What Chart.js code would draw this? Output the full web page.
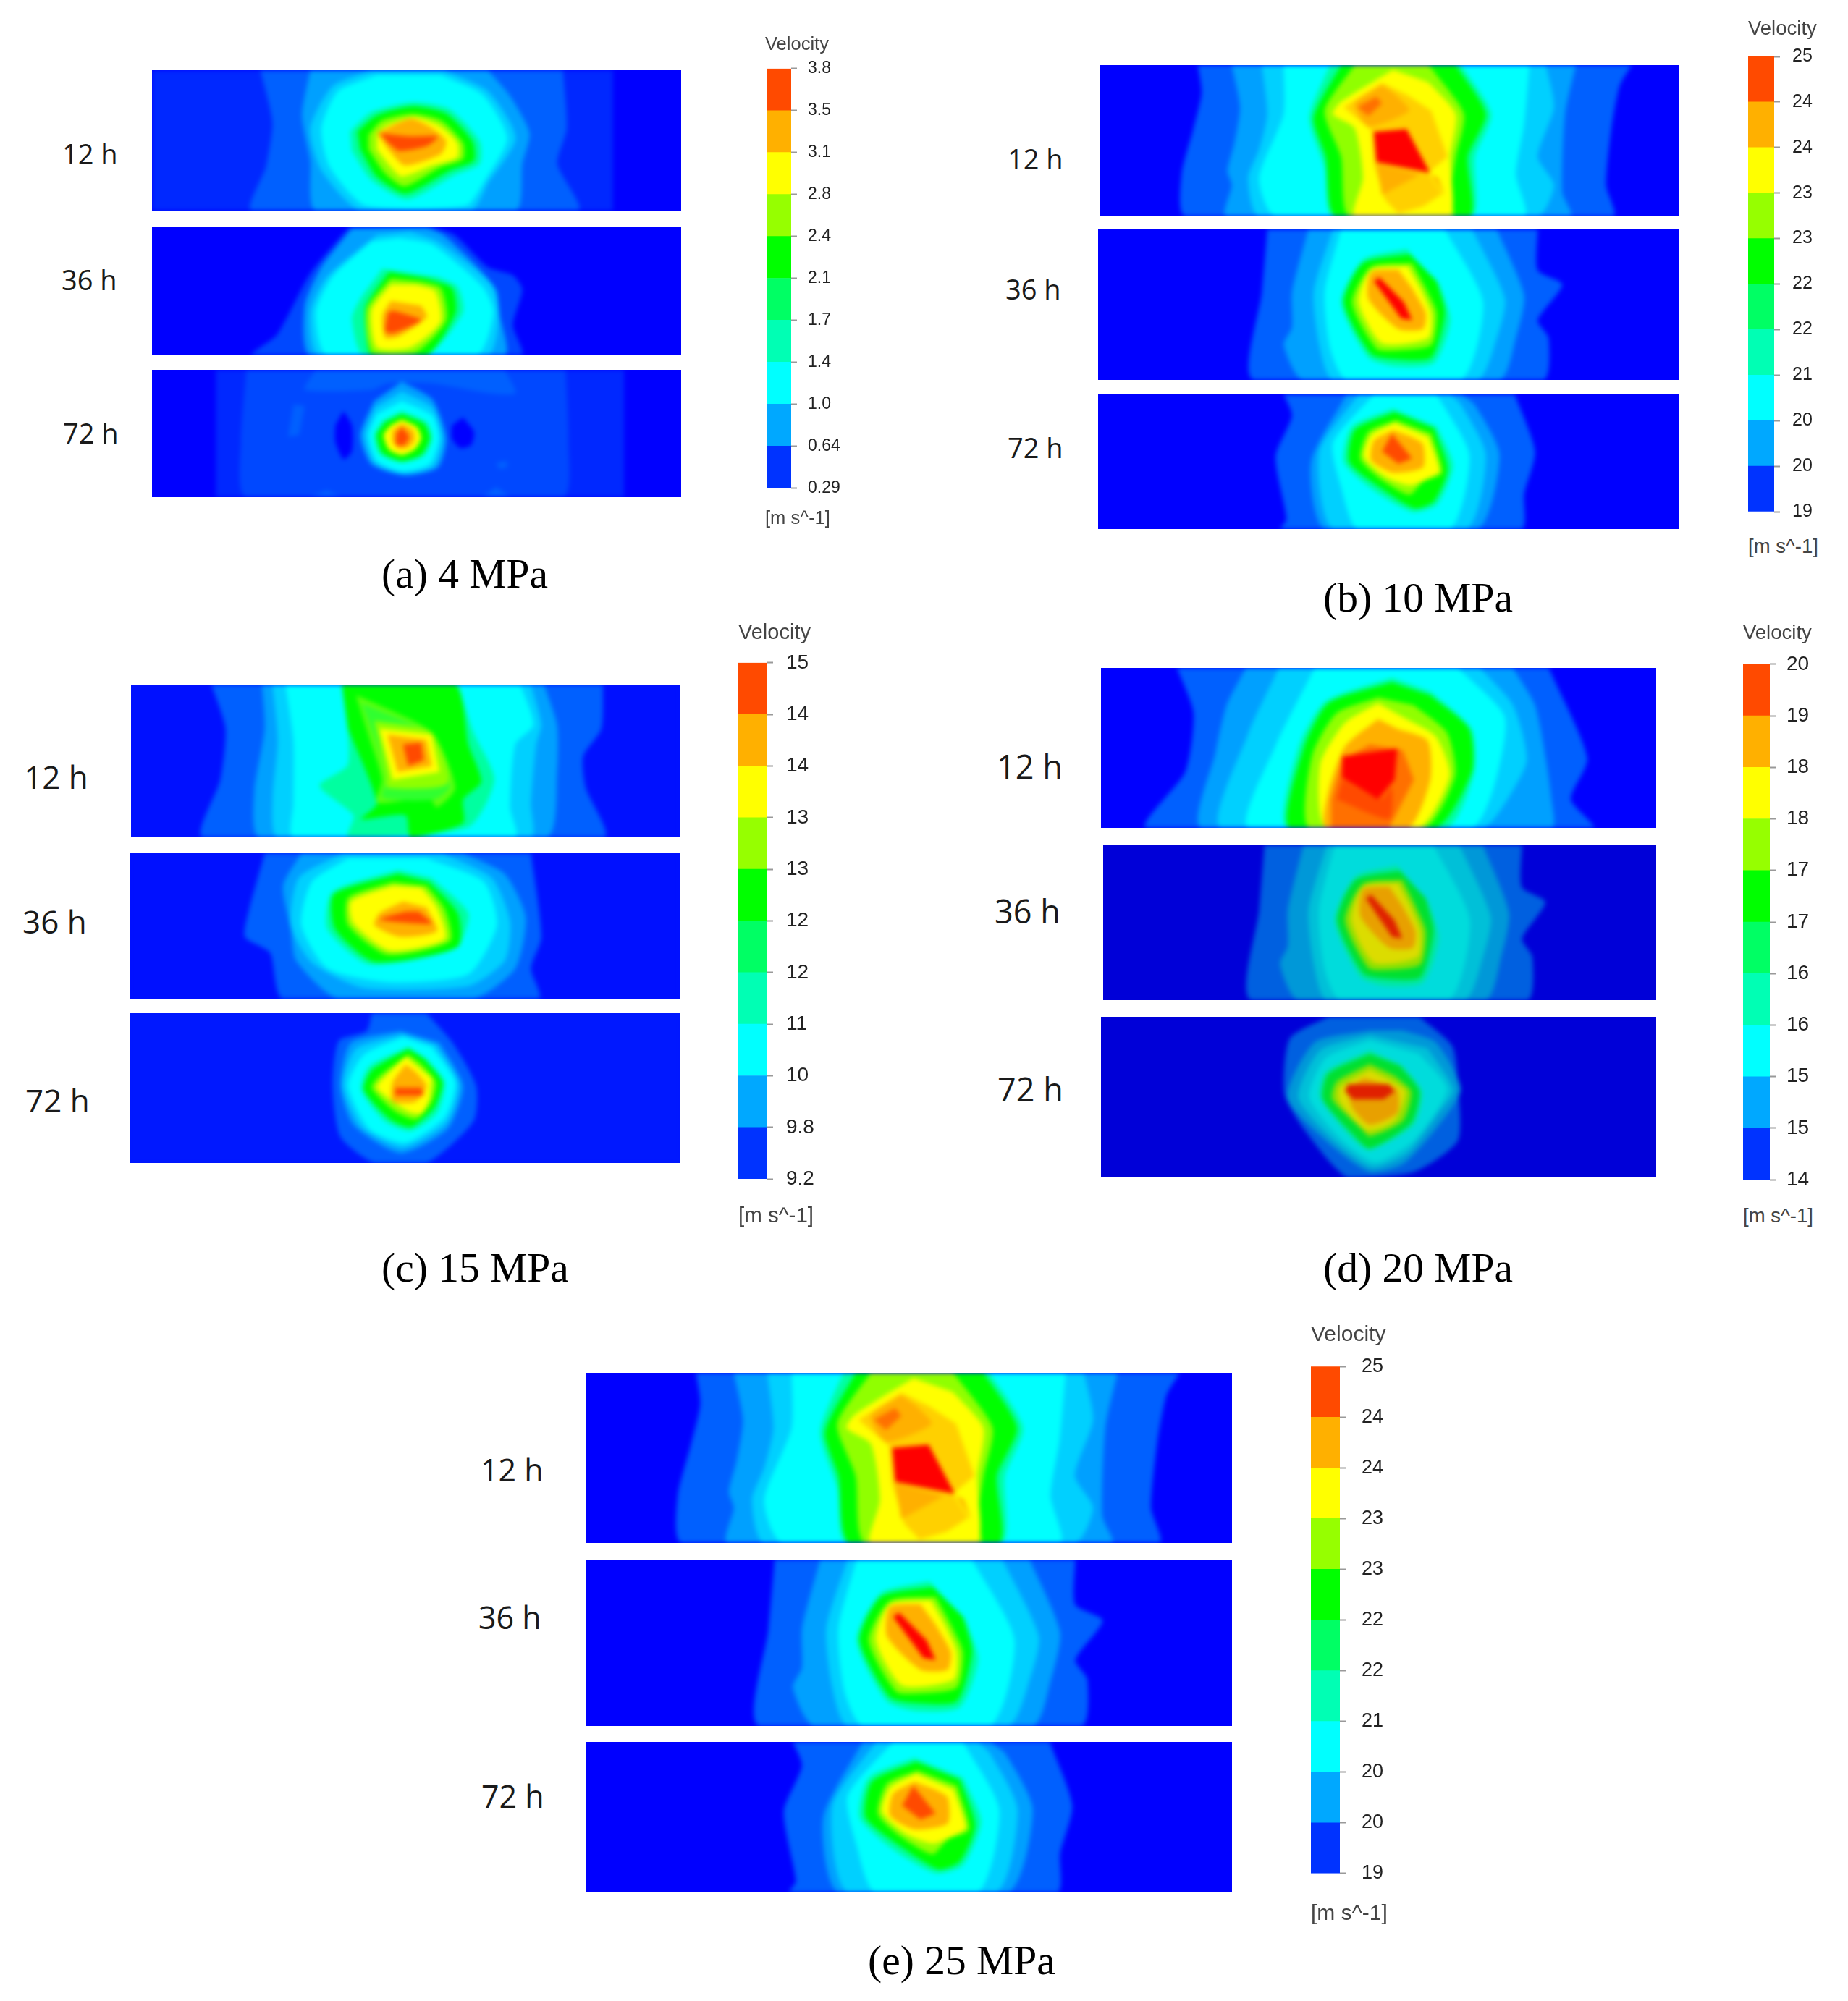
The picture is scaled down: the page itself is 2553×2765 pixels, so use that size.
<!DOCTYPE html>
<html><head><meta charset="utf-8">
<style>
html,body{margin:0;padding:0;background:#fff;width:2553px;height:2765px;overflow:hidden}
#page{position:relative;width:2553px;height:2765px}
.strip{position:absolute;overflow:hidden}
.strip canvas{display:block;filter:blur(3px)}
.bar{position:absolute}
.t{position:absolute;white-space:nowrap;transform:translateY(-50%);line-height:1}
</style>
<script src="https://cdn.jsdelivr.net/npm/chart.js@4/dist/chart.umd.min.js"></script>
</head><body><div id="page"></div>
<script>
// Contour level index -> colour (rainbow velocity legend)
const levelColors={1:'#0028ff',2:'#0060ff',3:'#00a0ff',4:'#00d0ff',5:'#00ffff',7:'#00ffa0',8:'#00ff00',9:'#90ff00',10:'#ffff00',15:'#ffd000',11:'#ffb000',14:'#ff7000',12:'#ff4a00',13:'#ff0000',16:'#0000ff',17:'#0048ff',18:'#60ff10',19:'#30ff30'};
const dimColors={2:'#0060e0',3:'#0098d8',4:'#00c0d8',5:'#00dcdc',7:'#00e8a0',8:'#00e030',9:'#90e000',10:'#dcdc00',11:'#e8a000',12:'#e04000',13:'#e02000'};

// Legend
const bandColors=['#0033ff','#00a8ff','#00ffff','#00ffb4','#00ff64','#00ff00','#96ff00','#ffff00','#ffb000','#ff4a00'];
const bandSteps=[1,1,1,1,1,1,1,1,1,1];
const ticksA=['0.29','0.64','1.0','1.4','1.7','2.1','2.4','2.8','3.1','3.5','3.8'];
const ticksB=['19','20','20','21','22','22','23','23','24','24','25'];
const ticksC=['9.2','9.8','10','11','12','12','13','13','14','14','15'];
const ticksD=['14','15','15','16','16','17','17','18','18','19','20'];
const ticksE=['19','20','20','21','22','22','23','23','24','24','25'];

// Contour outlines per strip: [level, [x,y, x,y, ...]] outermost first
const a12=[
[1,[195,150,1025,150,1025,585,195,585]],
[2,[390,150,405,250,412,320,400,450,375,585,962,585,925,440,942,330,935,150]],
[3,[480,150,465,290,480,430,490,585,850,585,862,440,875,345,840,230,800,150]],
[4,[590,150,520,200,480,330,500,460,570,585,770,585,800,500,850,360,800,215,720,150]],
[5,[600,165,530,215,500,330,515,450,580,570,760,570,795,490,835,360,790,225,715,165]],
[7,[552,340,590,280,665,250,730,270,785,370,785,440,740,475,655,550,590,490,555,400]],
[8,[565,340,600,290,665,262,725,285,772,370,775,430,730,462,652,532,600,480,570,395]],
[9,[585,350,610,305,665,285,715,305,755,375,755,425,715,450,650,510,615,470,585,395]],
[10,[600,345,620,320,665,295,710,320,745,375,745,420,700,445,645,480,625,450,600,395]],
[11,[600,345,660,300,700,330,725,370,715,410,650,445,620,395]],
[12,[605,345,660,355,710,355,690,385,640,400,620,375]]];
const a36=[
[17,[550,636,480,780,420,970,375,1034,860,1034,845,940,862,830,845,785,800,760,740,660,700,636]],
[3,[555,640,500,760,470,880,480,1034,830,1034,820,900,815,830,770,740,720,660,690,636]],
[4,[600,660,510,790,480,900,495,1034,800,1034,820,900,805,810,710,680,660,650]],
[5,[590,680,520,790,490,900,510,1034,780,1034,810,900,790,820,700,690,640,670]],
[7,[610,765,570,860,555,920,575,1034,690,1034,755,900,745,820,710,790]],
[8,[622,775,580,880,580,960,590,1034,690,1034,742,900,735,825,690,795]],
[9,[625,795,582,890,592,1025,670,1025,725,925,715,825,680,805]],
[10,[625,815,590,895,600,1010,660,1010,715,930,705,835,670,815]],
[11,[625,865,610,910,615,980,640,975,690,915,680,880]],
[12,[620,900,615,960,630,965,680,925,650,905,630,895]]];
const a72=[
[1,[310,1078,310,1472,1045,1472,1045,1078]],
[17,[365,1078,355,1300,365,1472,935,1472,945,1300,940,1078]],
[2,[490,1078,470,1140,590,1140,620,1120,700,1120,800,1150,850,1150,830,1078]],
[2,[450,1185,470,1190,460,1280,440,1285]],
[2,[480,1472,510,1450,535,1472]],
[2,[790,1472,815,1440,840,1472]],
[2,[815,1365,835,1360,835,1380,820,1385]],
[16,[540,1205,555,1250,555,1330,540,1355,525,1300,525,1250]],
[16,[755,1225,775,1270,770,1310,750,1320,735,1290,735,1250]],
[3,[645,1115,700,1170,725,1290,710,1380,650,1405,590,1370,570,1280,595,1175]],
[4,[645,1145,700,1195,718,1290,703,1375,648,1398,595,1365,578,1280,597,1195]],
[5,[645,1175,700,1220,712,1290,695,1370,645,1392,600,1360,585,1280,600,1215]],
[7,[645,1205,690,1240,700,1290,685,1345,645,1365,605,1340,595,1280,610,1235]],
[8,[645,1215,685,1245,695,1290,680,1340,645,1360,610,1335,600,1280,615,1240]],
[10,[645,1232,672,1255,680,1290,668,1325,645,1342,622,1325,612,1280,625,1250]],
[11,[645,1245,665,1265,668,1295,655,1320,640,1322,628,1300,628,1265]],
[12,[645,1255,658,1285,650,1310,635,1310,635,1275]]];
const b12=[
[2,[378,162,385,240,370,340,348,470,355,588,1138,588,1125,500,1135,340,1150,220,1172,162]],
[3,[440,162,455,280,445,380,432,460,440,500,430,588,1060,588,1045,520,1050,300,1070,162]],
[4,[495,162,505,300,490,400,470,480,490,588,1000,588,1030,500,1000,420,1030,280,1015,162]],
[5,[535,162,535,300,490,480,520,588,975,588,960,470,975,330,985,162]],
[7,[620,162,582,310,610,450,625,588,880,588,885,420,915,300,860,162]],
[8,[640,162,590,310,612,420,630,588,875,588,872,420,905,300,850,162]],
[9,[665,162,610,290,640,420,655,588,845,588,840,530,850,420,865,300,810,180,800,162]],
[10,[735,175,640,265,625,300,665,340,680,480,665,588,840,585,845,540,840,420,850,300,800,210]],
[15,[715,212,645,280,695,345,700,440,720,540,745,580,790,560,825,525,800,465,835,420,805,290,760,245]],
[11,[715,218,665,270,690,335,765,290,740,245]],
[14,[705,250,670,280,690,305,715,270]],
[11,[705,438,785,470,715,528]],
[11,[805,468,830,530,818,480]],
[13,[700,350,760,342,803,465,705,435]]];
const b36=[
[2,[505,625,495,800,480,1048,1010,1048,1020,930,1000,880,1045,780,1000,740,1000,625]],
[3,[580,625,550,800,550,900,535,950,570,1048,930,1048,960,930,975,810,925,625]],
[4,[625,625,590,800,600,950,625,1048,890,1048,925,930,940,820,880,625]],
[5,[640,625,610,800,620,960,650,1048,860,1048,900,830,830,625]],
[7,[760,680,680,710,640,830,690,985,740,1010,810,1000,840,880,820,780]],
[8,[765,695,680,720,645,830,695,975,740,990,805,985,830,860,815,770]],
[9,[770,720,695,730,660,830,705,960,745,965,805,950,815,860,795,790]],
[10,[762,728,695,738,672,830,715,945,800,930,805,860,785,790]],
[11,[745,738,695,745,690,820,745,905,790,905,795,860,770,790]],
[13,[710,760,700,770,750,875,770,880,755,830]]];
const b72=[
[2,[535,1090,550,1150,520,1265,540,1440,530,1468,970,1468,975,1370,995,1250,958,1090]],
[3,[650,1090,585,1280,610,1468,890,1468,930,1260,885,1120,860,1090]],
[4,[672,1090,600,1250,625,1468,870,1468,905,1260,860,1120,840,1090]],
[5,[700,1090,625,1225,640,1350,670,1468,840,1468,875,1260,815,1090]],
[7,[735,1130,660,1180,645,1280,700,1360,770,1420,815,1400,845,1290,815,1180]],
[8,[738,1140,665,1190,655,1280,710,1350,775,1410,810,1390,835,1300,810,1185]],
[9,[740,1162,690,1195,675,1270,710,1325,765,1372,790,1335,825,1310,805,1200]],
[10,[738,1170,695,1205,682,1265,720,1320,765,1345,800,1325,820,1305,800,1210]],
[11,[735,1190,700,1220,695,1275,735,1310,790,1295,790,1230,770,1210]],
[12,[733,1200,715,1250,745,1285,770,1270]]];
const c12=[
[2,[378,178,405,290,395,420,362,566,1130,566,1095,440,1090,360,1125,290,1128,178]],
[3,[475,178,480,290,460,450,470,566,1020,566,1040,400,1040,280,1015,178]],
[4,[495,178,505,320,495,470,505,566,990,566,990,480,1000,330,1010,280,990,178]],
[5,[520,178,535,320,535,480,535,566,960,566,950,490,960,330,995,280,970,178]],
[7,[628,178,640,380,585,435,650,510,640,566,870,540,920,420,880,300,850,178]],
[8,[628,178,845,178,870,330,895,425,860,470,860,530,760,566,750,510,665,520,695,480,640,290]],
[18,[655,205,690,225,800,300,845,440,810,490,795,465,695,478,705,420,680,310]],
[19,[665,225,795,305,835,435,805,470,705,465,715,410,690,310]],
[9,[690,270,800,300,830,430,715,440,715,410]],
[10,[700,290,800,305,815,400,725,420]],
[11,[715,305,790,318,800,385,735,400]],
[12,[745,330,780,325,785,370,755,385]]];
const c36=[
[2,[480,607,450,750,442,820,490,860,515,977,1005,977,990,900,1010,820,990,607]],
[3,[550,607,515,690,530,800,540,880,620,977,880,977,960,900,980,770,940,660,860,607]],
[4,[630,607,545,670,530,790,570,885,670,950,870,945,940,880,950,780,915,670,820,607]],
[5,[640,620,570,680,550,790,600,900,720,935,870,915,925,790,900,680,790,620]],
[7,[735,650,610,705,600,800,680,890,845,850,870,760,800,670]],
[8,[735,660,612,712,615,800,690,883,850,845,850,760,795,680]],
[9,[725,680,640,720,640,790,715,865,835,830,825,750,790,690]],
[10,[725,690,645,730,650,785,720,855,825,825,810,745,780,695]],
[11,[745,730,700,760,690,790,740,820,810,805,790,745]],
[12,[750,755,700,775,760,785,800,785,775,755]]];
const c72=[
[2,[685,1014,675,1060,622,1085,610,1200,625,1330,690,1397,790,1397,880,1290,885,1200,840,1090,790,1014]],
[3,[740,1060,645,1090,625,1200,650,1300,740,1372,830,1310,860,1200,815,1090]],
[4,[745,1068,655,1105,630,1200,665,1305,745,1358,828,1295,852,1195,808,1095]],
[5,[745,1075,670,1120,640,1200,680,1310,750,1345,825,1280,845,1190,800,1100]],
[7,[755,1100,680,1150,665,1210,710,1290,760,1315,810,1270,825,1190,790,1130]],
[8,[755,1105,685,1160,670,1210,720,1285,760,1305,805,1255,820,1190,785,1130]],
[9,[755,1120,700,1175,685,1205,730,1265,770,1285,800,1240,808,1190,780,1145]],
[10,[750,1125,715,1170,695,1205,755,1265,780,1270,795,1235,800,1180]],
[11,[750,1145,725,1190,725,1240,770,1240,790,1200,770,1165]],
[12,[730,1205,780,1205,785,1225,730,1225]]];
const d12=[
[2,[350,135,380,250,365,400,295,543,1105,543,1065,470,1095,365,1025,135]],
[3,[475,135,440,230,420,350,395,543,1030,543,1030,470,1020,370,1000,230,960,135]],
[4,[535,135,480,300,430,543,905,543,950,470,985,370,960,230,900,135]],
[5,[600,135,530,330,480,543,885,543,925,440,945,260,860,135]],
[7,[740,160,620,220,570,340,550,543,840,543,890,400,885,290,810,195]],
[8,[740,172,625,225,580,340,555,543,820,543,885,400,880,290,810,205]],
[9,[715,210,640,250,595,360,590,543,800,543,855,410,840,300,780,230]],
[10,[715,225,655,275,610,380,620,543,790,543,845,410,820,310,760,260]],
[11,[715,265,655,335,625,450,620,543,770,543,810,420,805,320,750,290]],
[14,[700,330,650,370,630,470,630,543,735,543,780,420,760,345]],
[12,[650,420,720,470,740,440,735,520,640,470]],
[13,[650,360,750,340,745,420,715,470,650,415]]];
const d72=[
[2,[625,1025,555,1080,545,1220,580,1310,660,1434,780,1420,860,1340,860,1200,850,1100,790,1025]],
[3,[700,1060,600,1090,550,1230,620,1340,700,1420,760,1400,820,1310,865,1210,820,1090,760,1060]],
[4,[700,1072,610,1110,570,1230,635,1340,705,1408,770,1370,830,1260,852,1210,805,1105]],
[5,[700,1085,620,1130,590,1230,650,1340,710,1395,780,1340,840,1210,790,1120]],
[7,[700,1110,620,1165,610,1230,665,1330,700,1365,780,1300,795,1215,760,1150]],
[8,[700,1120,625,1170,615,1235,670,1325,700,1360,775,1295,790,1215,755,1150]],
[9,[700,1145,640,1190,632,1235,685,1310,700,1330,760,1290,775,1215,745,1175]],
[10,[700,1160,645,1205,645,1240,695,1315,745,1290,765,1215,735,1185]],
[11,[690,1180,660,1210,670,1260,700,1300,750,1270,750,1210,725,1195]],
[13,[660,1197,735,1197,745,1215,725,1235,670,1235,655,1215]]];

// Layout: contours, source window [x0,x1,y0,y1], box on page [l,t,r,b], background
const BLUE='#0000ff';
const strips=[
 [a12,[195,1148,150,585],[210,97,941,291],BLUE],
 [a36,[195,1148,636,1034],[210,314,941,491],BLUE],
 [a72,[195,1148,1078,1472],[210,511,941,687],BLUE],
 [b12,[198,1258,162,588],[1519,90,2319,299],BLUE],
 [b36,[195,1258,625,1048],[1517,317,2319,525],BLUE],
 [b72,[195,1258,1090,1468],[1517,545,2319,731],BLUE],
 [c12,[224,1275,178,566],[181,946,939,1157],'#0010ff'],
 [c36,[221,1275,607,977],[179,1179,939,1380],'#0010ff'],
 [c72,[221,1275,1014,1397],[179,1400,939,1607],'#0018ff'],
 [d12,[212,1220,135,543],[1521,923,2288,1144],BLUE],
 [b36,[195,1258,625,1048],[1524,1168,2288,1382],'#0000d8',dimColors],
 [d72,[212,1220,1025,1434],[1521,1405,2288,1627],'#0000d8',dimColors],
 [b12,[198,1258,162,588],[810,1897,1702,2132],BLUE],
 [b36,[195,1258,625,1048],[810,2155,1702,2385],BLUE],
 [b72,[195,1258,1090,1468],[810,2407,1702,2615],BLUE]
];
// Legend layout: ticks, bar box [l,t,r,b], font size, tick label gap, canvas overscan
const legends=[
 [ticksA,[1059,96,1093,673],23,15,4],
 [ticksB,[2415,78,2451,707],25,17,6],
 [ticksC,[1020,916,1060,1629],28,18,9],
 [ticksD,[2408,919,2445,1629],28,15,7],
 [ticksE,[1811,1887,1851,2590],27,22,11]
];
// text, x, centre y, size, family, colour
const SANS='"Open Sans"', ARIAL='"Liberation Sans"', SERIF='"Liberation Serif"';
const texts=[
 ['12 h',86,212,38,SANS,'#1a1a1a'],['36 h',85,386,38,SANS,'#1a1a1a'],['72 h',87,598,38,SANS,'#1a1a1a'],
 ['12 h',1392,219,38,SANS,'#1a1a1a'],['36 h',1389,399,38,SANS,'#1a1a1a'],['72 h',1392,618,38,SANS,'#1a1a1a'],
 ['12 h',33,1073,44,SANS,'#1a1a1a'],['36 h',31,1273,44,SANS,'#1a1a1a'],['72 h',35,1520,44,SANS,'#1a1a1a'],
 ['12 h',1377,1058,45,SANS,'#1a1a1a'],['36 h',1374,1258,45,SANS,'#1a1a1a'],['72 h',1378,1504,45,SANS,'#1a1a1a'],
 ['12 h',664,2030,43,SANS,'#1a1a1a'],['36 h',661,2234,43,SANS,'#1a1a1a'],['72 h',665,2481,43,SANS,'#1a1a1a'],
 ['Velocity',1057,60,25.5,ARIAL,'#444'],['[m s^-1]',1057,715,25.5,ARIAL,'#444'],
 ['Velocity',2415,39,27.5,ARIAL,'#444'],['[m s^-1]',2415,755,27.5,ARIAL,'#444'],
 ['Velocity',1020,873,29,ARIAL,'#444'],['[m s^-1]',1020,1679,29.5,ARIAL,'#444'],
 ['Velocity',2408,874,27.5,ARIAL,'#444'],['[m s^-1]',2408,1680,27.5,ARIAL,'#444'],
 ['Velocity',1811,1843,30,ARIAL,'#444'],['[m s^-1]',1811,2643,30,ARIAL,'#444'],
 ['(a) 4 MPa',527,792,57.5,SERIF,'#000'],
 ['(b) 10 MPa',1828,825,57.5,SERIF,'#000'],
 ['(c) 15 MPa',527,1751,57.5,SERIF,'#000'],
 ['(d) 20 MPa',1828,1751,57.5,SERIF,'#000'],
 ['(e) 25 MPa',1199,2708,57.5,SERIF,'#000']
];

Chart.defaults.animation=false;
const page=document.getElementById('page');

strips.forEach(([contours,win,box,bg,palette])=>{
  const w=box[2]-box[0],h=box[3]-box[1];
  const wrap=document.createElement('div');
  wrap.className='strip';
  wrap.style.cssText=`left:${box[0]}px;top:${box[1]}px;width:${w}px;height:${h}px;background:${bg}`;
  const c=document.createElement('canvas');
  c.width=w;c.height=h;c.style.background=bg;
  wrap.appendChild(c);page.appendChild(wrap);
  const datasets=contours.map(([lvl,flat])=>{
    const data=[];
    for(let i=0;i<flat.length;i+=2)data.push({x:flat[i],y:flat[i+1]});
    const col=(palette&&palette[lvl])||levelColors[lvl];
    const sharp=flat.length<=8||lvl===13||lvl===14||lvl===15;
    return {data,showLine:true,fill:'shape',backgroundColor:col,borderColor:col,borderWidth:0,pointRadius:0,tension:sharp?0:0.22};
  }).reverse();
  new Chart(c,{type:'scatter',data:{datasets},options:{
    responsive:false,devicePixelRatio:1,animation:false,
    layout:{padding:0},
    plugins:{legend:{display:false},title:{display:false},tooltip:{enabled:false}},
    scales:{
      x:{type:'linear',min:win[0],max:win[1],display:false},
      y:{type:'linear',min:win[2],max:win[3],reverse:true,display:false}
    }}});
});

legends.forEach(([ticks,box,size,gap,extra])=>{
  const pad=26, barW=box[2]-box[0], W=barW+100, H=box[3]-box[1]+(pad+extra)*2;
  const c=document.createElement('canvas');
  c.className='bar';c.width=W;c.height=H;
  c.style.left=box[0]+'px';c.style.top=(box[1]-pad-extra)+'px';
  page.appendChild(c);
  new Chart(c,{type:'bar',data:{labels:['Velocity'],
    datasets:bandColors.map((col,i)=>({data:[bandSteps[i]],backgroundColor:col,borderWidth:0,barPercentage:1,categoryPercentage:1,stack:'v'}))},
    options:{responsive:false,devicePixelRatio:1,animation:false,
    layout:{padding:{top:pad,bottom:pad,left:0,right:0}},
    plugins:{legend:{display:false},title:{display:false},tooltip:{enabled:false}},
    scales:{
      x:{stacked:true,display:false},
      y:{stacked:true,position:'right',min:0,max:10,
        afterFit(s){s.width=W-barW;},
        border:{display:false},
        grid:{drawOnChartArea:false,drawTicks:true,tickLength:8,tickColor:'#999',tickWidth:2},
        ticks:{stepSize:1,autoSkip:false,padding:gap,color:'#222',font:{family:'"Liberation Sans"',size},
          callback:v=>ticks[v]}
      }
    }}});
});

texts.forEach(([s,x,y,size,fam,col])=>{
  const d=document.createElement('div');
  d.className='t';d.textContent=s;
  d.style.cssText=`left:${x}px;top:${y}px;font:${size}px ${fam};color:${col}`;
  page.appendChild(d);
});
</script></body></html>
